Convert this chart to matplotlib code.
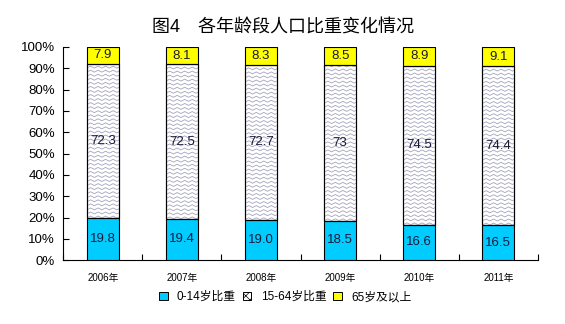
import numpy as np
import matplotlib
matplotlib.use('Agg')
import matplotlib.pyplot as plt
from matplotlib.patches import Rectangle

plt.rcParams['font.family'] = ['Liberation Sans', 'Noto Sans CJK SC', 'DejaVu Sans']

years = ['2006年', '2007年', '2008年', '2009年', '2010年', '2011年']
child = [19.8, 19.4, 19.0, 18.5, 16.6, 16.5]
working = [72.3, 72.5, 72.7, 73, 74.5, 74.4]
elderly = [7.9, 8.1, 8.3, 8.5, 8.9, 9.1]
child_labels = ['19.8', '19.4', '19.0', '18.5', '16.6', '16.5']
working_labels = ['72.3', '72.5', '72.7', '73', '74.5', '74.4']
elderly_labels = ['7.9', '8.1', '8.3', '8.5', '8.9', '9.1']
series_names = ['0-14岁比重', '15-64岁比重', '65岁及以上']

BLUE = '#00ccff'
YELLOW = '#ffff00'
WAVE = '#a4a4bc'
W = 0.405


def wave_fill(ax, patch, step_x=0.095, step_y=1.9, amp=0.9):
    # zigzag texture clipped to the bar
    x0, y0 = patch.get_x(), patch.get_y()
    w, h = patch.get_width(), patch.get_height()
    xs = np.arange(x0 - step_x, x0 + w + step_x, step_x / 2)
    zig = np.where(np.arange(len(xs)) % 2 == 0, 0, amp)
    for yb in np.arange(y0 - step_y, y0 + h + step_y, step_y):
        ln, = ax.plot(xs, yb + zig, color=WAVE, lw=0.6, zorder=2.5)
        ln.set_clip_path(patch)


fig = plt.figure(figsize=(5.65, 3.24), dpi=100)
ax = fig.add_axes([0.112, 0.197, 0.84, 0.658])

x = np.arange(len(years))
b1 = ax.bar(x, child, W, color=BLUE, edgecolor='black', lw=0.8, zorder=3)
b2 = ax.bar(x, working, W, bottom=child, color='white', edgecolor='black',
            lw=0.8, zorder=2)
tops = np.array(child) + np.array(working)
b3 = ax.bar(x, elderly, W, bottom=tops, color=YELLOW, edgecolor='black',
            lw=0.8, zorder=3)
for p in b2:
    wave_fill(ax, p)
    p2 = Rectangle((p.get_x(), p.get_y()), p.get_width(), p.get_height(),
                   fill=False, edgecolor='black', lw=0.8, zorder=3)
    ax.add_patch(p2)

for i in x:
    ax.text(i, child[i] / 2, child_labels[i], ha='center', va='center',
            fontsize=9.5, color='#1a1a3a', zorder=5)
    ax.text(i, child[i] + working[i] / 2, working_labels[i], ha='center',
            va='center', fontsize=9.5, color='#1a1a3a', zorder=5)
    ax.text(i, tops[i] + elderly[i] / 2, elderly_labels[i], ha='center',
            va='center', fontsize=9.5, color='#1a1a3a', zorder=5)

ax.set_xlim(-0.5, len(years) - 0.5)
ax.set_ylim(0, 100)
ax.set_yticks(np.arange(0, 101, 10))
ax.set_yticklabels([f'{v}%' for v in range(0, 101, 10)], fontsize=9.5)
ax.set_xticks(x)
ax.set_xticklabels(years, fontsize=7)
ax.set_xticks(np.arange(-0.5, len(years), 1), minor=True)
ax.tick_params(axis='x', which='major', length=0, pad=9)
ax.tick_params(axis='x', which='minor', direction='in', length=4, width=0.8)
ax.tick_params(axis='y', direction='in', length=4, width=0.8, pad=6)
for s in ['top', 'right']:
    ax.spines[s].set_visible(False)
for s in ['left', 'bottom']:
    ax.spines[s].set_linewidth(0.8)

fig.text(0.5, 0.915, '图4\u3000各年龄段人口比重变化情况', ha='center',
         va='center', fontsize=13)

plt.rcParams['hatch.color'] = WAVE
plt.rcParams['hatch.linewidth'] = 0.5
handles = [
    Rectangle((0, 0), 1, 1, facecolor=BLUE, edgecolor='black', lw=0.7),
    Rectangle((0, 0), 1, 1, facecolor='white', edgecolor='black', lw=0.7,
              hatch='xxxx'),
    Rectangle((0, 0), 1, 1, facecolor=YELLOW, edgecolor='black', lw=0.7),
]
fig.legend(handles, series_names, loc='center', bbox_to_anchor=(0.505, 0.083),
           ncol=3, frameon=False, fontsize=8.5, handlelength=0.7,
           handleheight=0.7, handletextpad=0.8, columnspacing=0.6)

fig.savefig('out.png', dpi=100)
